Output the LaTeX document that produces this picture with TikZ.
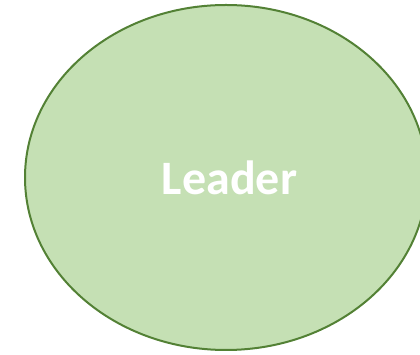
\documentclass[tikz,border=0pt]{standalone}
\usepackage{fontspec}
\setmainfont{Carlito}
\definecolor{leaderfill}{HTML}{C5E0B4}
\definecolor{leaderline}{HTML}{538135}
\begin{document}
\begin{tikzpicture}[x=1pt,y=1pt,
  leaderstyle/.style={ellipse, fill=leaderfill, draw=leaderline, line width=2pt}]
\useasboundingbox (0,0) rectangle (420,355);
\clip (0,0) rectangle (420,355);
\fill[leaderfill, draw=leaderline, line width=2pt] (226,177.5) ellipse [x radius=201, y radius=172.5];
\node[text=white, font=\fontsize{48}{58}\selectfont\bfseries, anchor=base] (leader) at (229.5,160) {Leader};
\end{tikzpicture}
\end{document}
